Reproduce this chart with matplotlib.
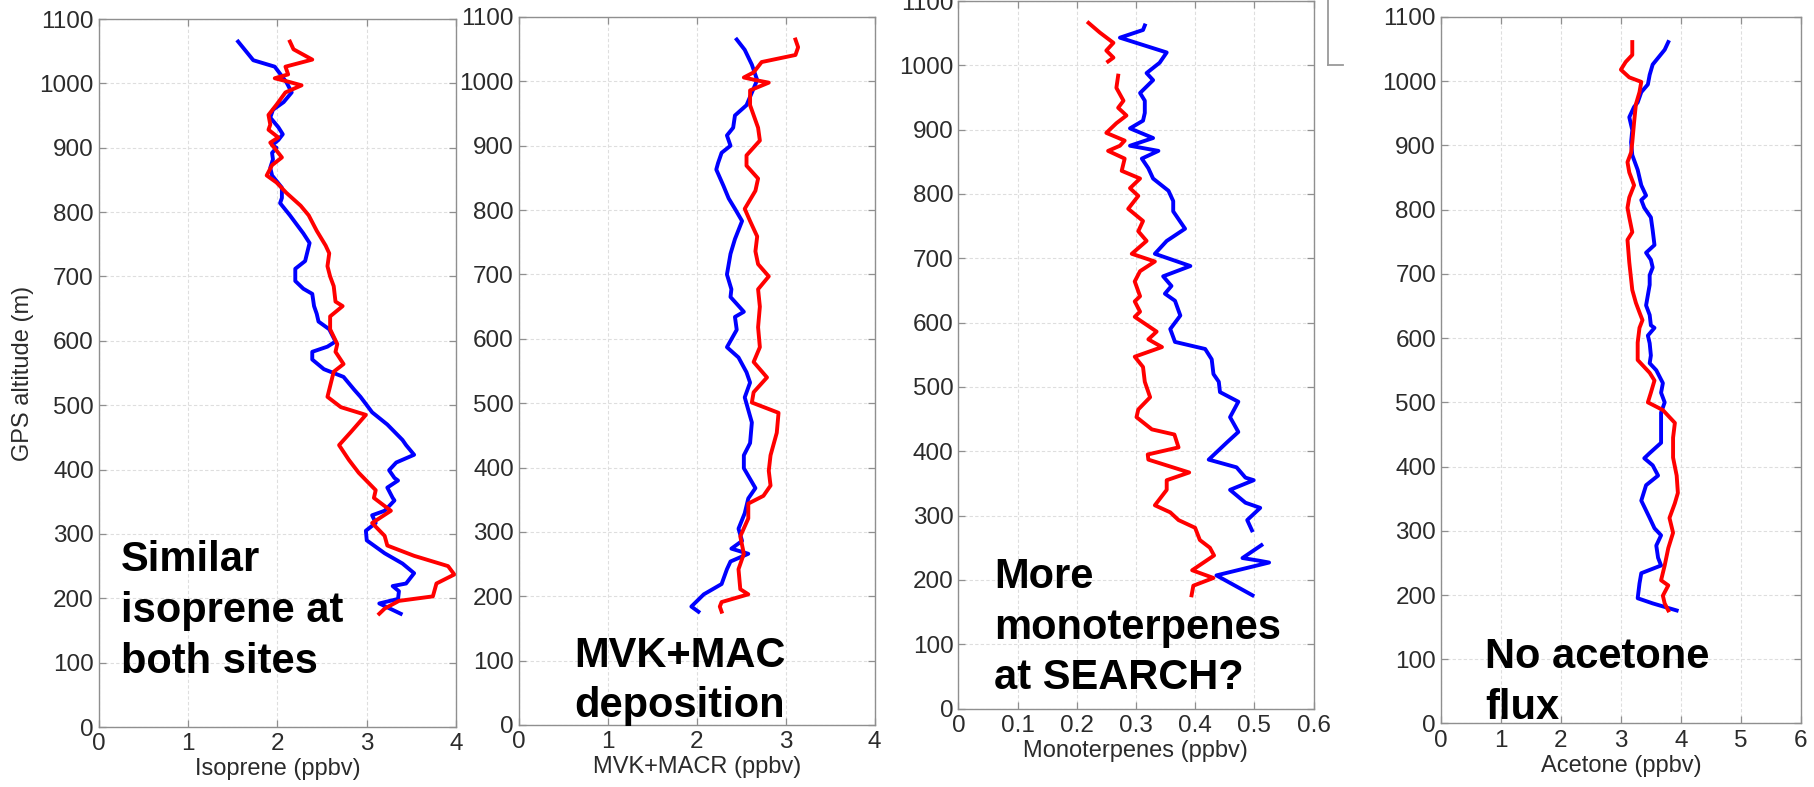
import numpy as np
import matplotlib.pyplot as plt
from matplotlib.lines import Line2D

nan = np.nan

# altitude (m) and mixing ratio (ppbv) of the two profiles in each panel
iso_blue_alt = [1065, 1036, 1026, 1002, 986, 971, 959, 947, 932, 921, 912, 904, 900, 892, 882,
                869, 857, 838, 822, 814, 795, 767, 752, 724, 712, 693, 681, 673, 654, 642,
                630, 618, 599, 591, 583, 571, 556, 544, 524, 513, 489, 470, 446, 438, 423,
                411, 399, 387, 383, 372, 356, 352, 336, 329, 317, 305, 290, 270, 254, 239,
                223, 219, 211, 199, 192, 176]
iso_blue = [1.56, 1.73, 1.97, 2.10, 2.16, 2.07, 1.95, 1.92, 2.01, 2.06, 2.01, 1.94, 1.99, 1.94, 1.95,
            1.92, 1.94, 2.05, 2.05, 2.03, 2.14, 2.29, 2.36, 2.31, 2.20, 2.20, 2.29, 2.39, 2.41, 2.44,
            2.46, 2.58, 2.65, 2.56, 2.39, 2.39, 2.52, 2.74, 2.86, 2.93, 3.06, 3.23, 3.40, 3.44, 3.53,
            3.33, 3.25, 3.31, 3.35, 3.23, 3.29, 3.31, 3.20, 3.06, 3.10, 2.99, 3.00, 3.20, 3.40, 3.53,
            3.44, 3.29, 3.36, 3.35, 3.14, 3.38]
iso_red_alt = [1065, 1053, 1037, 1026, 1014, 1008, 1002, 997, 986, 967, 951, 936, 928, 916, 908,
               885, 873, 857, 846, 830, 810, 795, 771, 748, 736, 716, 700, 685, 661, 654,
               638, 618, 595, 583, 564, 552, 513, 497, 485, 458, 438, 415, 395, 368, 356,
               336, 317, 297, 282, 266, 250, 237, 223, 203, 196, 184, 176]
iso_red = [2.14, 2.18, 2.39, 2.09, 2.12, 1.97, 2.14, 2.27, 2.09, 1.99, 1.90, 1.92, 1.90, 2.01, 1.92,
           2.05, 1.94, 1.88, 1.99, 2.10, 2.26, 2.35, 2.44, 2.54, 2.58, 2.56, 2.59, 2.63, 2.65, 2.73,
           2.59, 2.59, 2.67, 2.65, 2.74, 2.63, 2.56, 2.71, 2.99, 2.82, 2.69, 2.80, 2.91, 3.10, 3.08,
           3.27, 3.06, 3.20, 3.23, 3.53, 3.91, 3.98, 3.78, 3.74, 3.36, 3.20, 3.14]

mvk_blue_alt = [1065, 1049, 1026, 1002, 963, 947, 928, 916, 900, 889, 873, 863, 838, 818, 802,
                783, 755, 732, 700, 677, 665, 642, 634, 614, 587, 571, 548, 532, 509, 470,
                438, 419, 399, 368, 352, 329, 305, 286, 274, 266, 254, 242, 219, 203, 184, 176]
mvk_blue = [2.45, 2.54, 2.62, 2.68, 2.56, 2.43, 2.41, 2.34, 2.38, 2.28, 2.24, 2.22, 2.30, 2.36, 2.43,
            2.51, 2.43, 2.38, 2.34, 2.39, 2.38, 2.53, 2.43, 2.45, 2.34, 2.47, 2.56, 2.60, 2.54, 2.62,
            2.60, 2.53, 2.53, 2.66, 2.58, 2.54, 2.47, 2.51, 2.39, 2.58, 2.38, 2.34, 2.28, 2.08, 1.94, 2.02]
mvk_red_alt = [1065, 1053, 1041, 1030, 1014, 1006, 1002, 998, 986, 963, 928, 908, 885, 869, 849,
               830, 802, 783, 759, 736, 716, 697, 677, 650, 618, 587, 564, 540, 517, 501,
               485, 454, 419, 395, 372, 356, 344, 321, 293, 266, 242, 211, 203, 191, 184, 176]
mvk_red = [3.11, 3.14, 3.11, 2.73, 2.64, 2.53, 2.66, 2.81, 2.60, 2.60, 2.69, 2.71, 2.56, 2.56, 2.69,
           2.66, 2.54, 2.60, 2.68, 2.66, 2.69, 2.81, 2.69, 2.71, 2.69, 2.71, 2.64, 2.79, 2.64, 2.62,
           2.92, 2.90, 2.83, 2.81, 2.83, 2.75, 2.58, 2.58, 2.49, 2.53, 2.47, 2.49, 2.58, 2.28, 2.26, 2.28]

mono_blue_alt = [1062, 1055, 1043, 1020, 1004, 988, 977, 957, 945, 926, 914, 902, 887, 875, 867,
                 855, 840, 824, 805, 789, 773, 746, 727, 707, 688, 672, 657, 645, 634, 611,
                 590, 570, 559, 543, 520, 508, 492, 477, 453, 430, 414, 387, 375, 359, 355,
                 340, 320, 312, 293, 277, 265, 254, 234, 230, 227, 207, 176]
mono_blue = [0.315, 0.312, 0.273, 0.352, 0.340, 0.318, 0.329, 0.307, 0.315, 0.315, 0.312, 0.290, 0.329, 0.290, 0.338,
             0.310, 0.321, 0.329, 0.355, 0.363, 0.363, 0.383, 0.352, 0.332, 0.392, 0.346, 0.360, 0.349, 0.366, 0.375,
             0.358, 0.366, 0.417, 0.428, 0.431, 0.440, 0.442, 0.473, 0.459, 0.473, 0.454, 0.423, 0.470, 0.485, 0.499,
             0.459, 0.485, 0.510, 0.488, 0.496, nan, 0.512, 0.480, 0.507, 0.525, 0.436, 0.497]
mono_red_alt = [1066, 1051, 1035, 1023, 1012, 1006, 995, 984, 965, 945, 934, 922, 910, 895, 883,
                875, 867, 855, 836, 824, 809, 797, 777, 758, 742, 727, 707, 695, 680, 664,
                641, 633, 617, 609, 586, 574, 562, 547, 531, 508, 484, 465, 453, 434, 426,
                406, 395, 387, 367, 355, 340, 316, 305, 293, 281, 262, 250, 238, 215, 203,
                191, 176]
mono_red = [0.220, 0.239, 0.262, 0.250, 0.262, 0.253, nan, 0.270, 0.267, 0.279, 0.270, 0.284, 0.267, 0.250, 0.281,
            0.273, 0.253, 0.281, 0.276, 0.307, 0.290, 0.304, 0.287, 0.312, 0.304, 0.318, 0.293, 0.332, 0.307, 0.298,
            0.307, 0.298, 0.307, 0.298, 0.335, 0.321, 0.344, 0.298, 0.312, 0.315, 0.324, 0.304, 0.301, 0.327, 0.365,
            0.372, 0.320, 0.321, 0.390, 0.352, 0.352, 0.332, 0.358, 0.372, 0.400, 0.408, 0.425, 0.432, 0.395, 0.431,
            0.397, 0.394]

ace_blue_alt = [1061, 1049, 1026, 1010, 995, 983, 967, 960, 944, 924, 905, 885, 862, 838, 822,
                815, 803, 788, 768, 745, 733, 722, 710, 698, 683, 651, 636, 620, 616, 604,
                592, 573, 561, 550, 530, 515, 500, 484, 453, 437, 421, 413, 402, 386, 371,
                347, 320, 304, 293, 277, 258, 246, 234, 218, 195, 187, 176]
ace_blue = [3.79, 3.73, 3.53, 3.48, 3.45, 3.34, 3.28, 3.22, 3.14, 3.19, 3.17, 3.19, 3.28, 3.34, 3.42,
            3.34, 3.39, 3.50, 3.53, 3.56, 3.42, 3.50, 3.53, 3.48, 3.48, 3.42, 3.48, 3.50, 3.56, 3.45,
            3.48, 3.50, 3.48, 3.59, 3.70, 3.67, 3.73, 3.67, 3.67, 3.67, 3.48, 3.39, 3.53, 3.62, 3.42,
            3.34, 3.48, 3.56, 3.67, 3.59, 3.62, 3.67, 3.34, 3.31, 3.28, 3.53, 3.93]
ace_red_alt = [1061, 1041, 1030, 1018, 1006, 999, 983, 964, 936, 905, 889, 874, 858, 838, 819,
               803, 788, 765, 753, 718, 675, 655, 640, 628, 616, 593, 566, 546, 534, 515,
               500, 488, 468, 445, 414, 386, 359, 343, 320, 297, 273, 246, 223, 215, 199,
               187, 176]
ace_red = [3.19, 3.19, 3.08, 3.00, 3.14, 3.34, 3.31, 3.25, 3.22, 3.19, 3.17, 3.11, 3.14, 3.22, 3.14,
           3.11, 3.14, 3.19, 3.11, 3.14, 3.19, 3.25, 3.31, 3.36, 3.31, 3.28, 3.28, 3.48, 3.56, 3.50,
           3.45, 3.70, 3.90, 3.87, 3.87, 3.93, 3.95, 3.90, 3.81, 3.87, 3.79, 3.73, 3.67, 3.79, 3.70,
           3.73, 3.79]

mono_ticklabels = ["0", "0.1", "0.2", "0.3", "0.4", "0.5", "0.6"]

plt.rcParams["font.family"] = ["Liberation Sans", "DejaVu Sans"]

TXT = "#2b2b2b"
EDGE = "#8f8f8f"

fig = plt.figure(figsize=(18.15, 7.87), dpi=100)

panels = [
    dict(rect=[0.0544, 0.0762, 0.1969, 0.8996], xmax=4, step=1, labels=None,
         xlabel="Isoprene (ppbv)", blue=(iso_blue, iso_blue_alt), red=(iso_red, iso_red_alt),
         note="Similar\nisoprene at\nboth sites", note_xy=(0.25, 290)),
    dict(rect=[0.2858, 0.0788, 0.1961, 0.8996], xmax=4, step=1, labels=None,
         xlabel="MVK+MACR (ppbv)", blue=(mvk_blue, mvk_blue_alt), red=(mvk_red, mvk_red_alt),
         note="MVK+MAC\ndeposition", note_xy=(0.62, 139)),
    dict(rect=[0.5280, 0.0997, 0.1957, 0.8990], xmax=0.6, step=0.1, labels=mono_ticklabels,
         xlabel="Monoterpenes (ppbv)", blue=(mono_blue, mono_blue_alt), red=(mono_red, mono_red_alt),
         note="More\nmonoterpenes\nat SEARCH?", note_xy=(0.060, 236)),
    dict(rect=[0.7939, 0.0807, 0.1983, 0.8977], xmax=6, step=1, labels=None,
         xlabel="Acetone (ppbv)", blue=(ace_blue, ace_blue_alt), red=(ace_red, ace_red_alt),
         note="No acetone\nflux", note_xy=(0.74, 135)),
]

for i, p in enumerate(panels):
    ax = fig.add_axes(p["rect"])
    ax.plot(p["blue"][0], p["blue"][1], color="#0000ff", linewidth=2.8)
    ax.plot(p["red"][0], p["red"][1], color="#ff0000", linewidth=2.8)

    ax.set_xlim(0, p["xmax"])
    ax.set_ylim(0, 1100)
    ticks = np.arange(0, p["xmax"] + p["step"] / 2, p["step"])
    ax.set_xticks(ticks)
    if p["labels"] is not None:
        ax.set_xticklabels(p["labels"])
    ax.set_yticks(np.arange(0, 1101, 100))

    ax.grid(True, color="#dedede", linewidth=0.8, linestyle=(0, (3, 2)))
    ax.set_axisbelow(True)
    for s in ax.spines.values():
        s.set_color(EDGE)
        s.set_linewidth(1.0)
    ax.tick_params(direction="in", length=5, width=0.9, color=EDGE, top=True, right=True,
                   labelsize=17.5, labelcolor=TXT)
    ax.tick_params(axis="y", pad=3.5)
    ax.tick_params(axis="x", pad=4.5)

    ax.set_xlabel(p["xlabel"], fontsize=17, color=TXT, labelpad=2)
    if i == 0:
        ax.set_ylabel("GPS altitude (m)", fontsize=17, color=TXT, labelpad=4)

    ax.text(p["note_xy"][0], p["note_xy"][1], p["note"], fontsize=30, fontweight="bold",
            color="black", ha="left", va="top", linespacing=1.35)

# corner of a legend box from the slide, partly hidden behind the last plot
fig.add_artist(Line2D([1328 / 1815, 1328 / 1815], [1.0, 1 - 65 / 787],
                      transform=fig.transFigure, color="#9a9a9a", linewidth=1.3))
fig.add_artist(Line2D([1328 / 1815, 1343 / 1815], [1 - 65 / 787, 1 - 65 / 787],
                      transform=fig.transFigure, color="#9a9a9a", linewidth=1.3))

fig.savefig("out.png", dpi=100)
